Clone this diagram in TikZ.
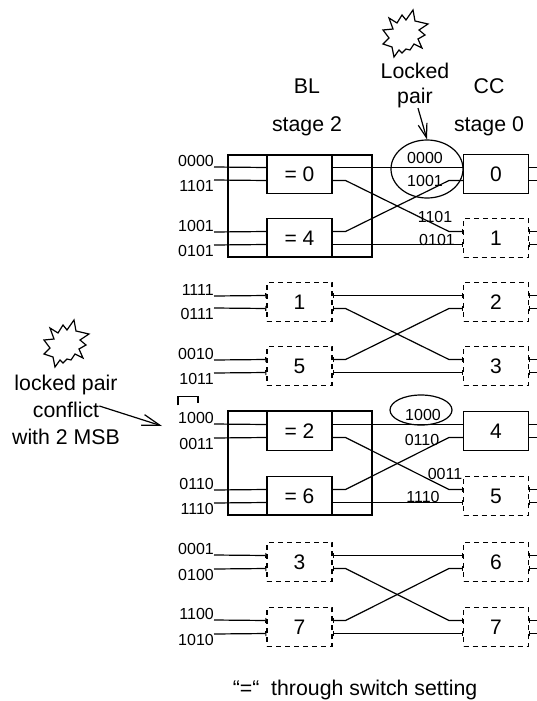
\documentclass[tikz,border=0pt]{standalone}
\usepackage{fontspec}
\setmainfont{Liberation Sans}
\usetikzlibrary{arrows.meta, positioning, shapes.geometric}
\tikzset{
  sw/.style={rectangle, draw, line width=1.1pt, inner sep=0pt,
    minimum width=65pt, minimum height=38.5pt, font=\fontsize{21}{24}\selectfont},
  swd/.style={sw, dashed, dash pattern=on 5pt off 4pt},
  lab/.style={inner sep=0pt, font=\fontsize{16}{18}\selectfont},
  txt/.style={inner sep=0pt, align=center, font=\fontsize{21.3}{24}\selectfont},
  wire/.style={line width=1.2pt},
  tick/.style={wire, -{Bar[width=5pt,length=1pt]}},
  tock/.style={wire, {Bar[width=5pt,length=1pt]}-},
  both/.style={wire, {Bar[width=5pt,length=1pt]}-{Bar[width=5pt,length=1pt]}},
  group/.style={rectangle, draw, line width=2.6pt, inner sep=0pt},
  lock/.style={ellipse, draw, line width=1.2pt, inner sep=0pt},
  burst/.pic={
    \draw[line width=1.2pt] (-16,-14) -- (-8,-9) -- (-3,-17) -- (1,-12) -- (8,-22)
      -- (10,-11) -- (23,-8) -- (14,-2) -- (20,3) -- (13,7) -- (17,16) -- (9,12)
      -- (5,18) -- (1,17) -- (-3,21) -- (-6,18) -- (-11,25) -- (-13,15) -- (-22,12)
      -- (-16,6) -- (-22,-2) -- (-12,-3) -- cycle;
  },
}
\begin{document}
\begin{tikzpicture}[x=1pt, y=-1pt]
\useasboundingbox (0,0) rectangle (537,701);
\def\pd{6.5pt}        % half distance between the two ports of a switch
\def\xa{299.5}        % x of BL column
\def\xb{496}          % x of CC column
\def\xin{214}         % x where the input wires start

%% -- Headings
\node[txt] (bl)  at (307, 86) {BL};
\node[txt] (st2) at (307,126) {stage 2};
\node[txt] (lck) at (415, 71) {Locked};
\node[txt] (par) at (415, 98) {pair};
\node[txt] (cc)  at (489, 86) {CC};
\node[txt] (st0) at (489,126) {stage 0};
\pic at (405,32) {burst};

%% -- Thick groups
\node[group, minimum width=144pt, minimum height=102pt] (g0) at (300,206) {};
\node[group, minimum width=144pt, minimum height=104pt] (g1) at (300,463) {};

%% -- BL stage 2 switches
\node[sw]  (b0) at (\xa,174) {= 0};
\node[sw]  (b4) at (\xa,238) {= 4};
\node[swd] (b1) at (\xa,302) {1};
\node[swd] (b5) at (\xa,366) {5};
\node[sw]  (b2) at (\xa,431) {= 2};
\node[sw]  (b6) at (\xa,496) {= 6};
\node[swd] (b3) at (\xa,562) {3};
\node[swd] (b7) at (\xa,627) {7};

%% -- CC stage 0 switches
\node[sw]  (c0) at (\xb,174) {0};
\node[swd] (c1) at (\xb,238) {1};
\node[swd] (c2) at (\xb,302) {2};
\node[swd] (c3) at (\xb,366) {3};
\node[sw]  (c4) at (\xb,431) {4};
\node[swd] (c5) at (\xb,496) {5};
\node[swd] (c6) at (\xb,562) {6};
\node[swd] (c7) at (\xb,627) {7};

%% -- Input labels
\node[lab, anchor=south east] (i0000) at (\xin,167) {0000};
\node[lab, anchor=north east] (i1101) at (\xin,180) {1101};
\node[lab, anchor=south east] (i1001) at (\xin,232) {1001};
\node[lab, anchor=north east] (i0101) at (\xin,245) {0101};
\node[lab, anchor=south east] (i1111) at (\xin,296) {1111};
\node[lab, anchor=north east] (i0111) at (\xin,308) {0111};
\node[lab, anchor=south east] (i0010) at (\xin,360) {0010};
\node[lab, anchor=north east] (i1011) at (\xin,373) {1011};
\node[lab, anchor=south east] (i1000) at (\xin,424) {1000};
\node[lab, anchor=north east] (i0011) at (\xin,438) {0011};
\node[lab, anchor=south east] (i0110) at (\xin,490) {0110};
\node[lab, anchor=north east] (i1110) at (\xin,503) {1110};
\node[lab, anchor=south east] (i0001) at (\xin,555) {0001};
\node[lab, anchor=north east] (i0100) at (\xin,569) {0100};
\node[lab, anchor=south east] (i1100) at (\xin,620) {1100};
\node[lab, anchor=north east] (i1010) at (\xin,634) {1010};

%% -- Input wires
\foreach \iu/\il/\sn/\sty in {i0000/i1101/b0/wire, i1001/i0101/b4/wire,
    i1111/i0111/b1/tick, i0010/i1011/b5/tick, i1000/i0011/b2/wire,
    i0110/i1110/b6/wire, i0001/i0100/b3/tick, i1100/i1010/b7/tick} {
  \draw[\sty] (\iu.south east) -- ([yshift=\pd]\sn.west);
  \draw[\sty] (\il.north east) -- ([yshift=-\pd]\sn.west);
}

%% -- Through wires and crossings
\foreach \bu/\bl/\cu/\cl/\stu/\stl in {b0/b4/c0/c1/wire/tick, b1/b5/c2/c3/both/both,
    b2/b6/c4/c5/wire/tick, b3/b7/c6/c7/both/both} {
  \draw[\stu] ([yshift=\pd]\bu.east) -- ([yshift=\pd]\cu.west);
  \draw[\stl] ([yshift=-\pd]\bl.east) -- ([yshift=-\pd]\cl.west);
  \draw[\stl] ([yshift=-\pd]\bu.east) -- ++(13,0) -- ([xshift=-14pt,yshift=\pd]\cl.west)
    -- ([yshift=\pd]\cl.west);
  \draw[\stu] ([yshift=\pd]\bl.east) -- ++(13,0) -- ([xshift=-14pt,yshift=-\pd]\cu.west)
    -- ([yshift=-\pd]\cu.west);
}

%% -- Output stubs
\foreach \sn/\sty in {c0/wire,c4/wire,c1/tock,c2/tock,c3/tock,c5/tock,c6/tock,c7/tock} {
  \draw[\sty] ([yshift=\pd]\sn.east) -- ++(8,0);
  \draw[\sty] ([yshift=-\pd]\sn.east) -- ++(8,0);
}

%% -- Labels on the wires
\node[lab] (w0000) at (425,158) {0000};
\node[lab] (w1001) at (425,181) {1001};
\node[lab] (w1101) at (435,217) {1101};
\node[lab] (w0101) at (437,240) {0101};
\node[lab] (w1000) at (423,415) {1000};
\node[lab] (w0110) at (422,440) {0110};
\node[lab] (w0011) at (445,474) {0011};
\node[lab] (w1110) at (423,497) {1110};

%% -- Locked pairs
\node[lock, minimum width=72pt, minimum height=58pt] (e0) at (427,169) {};
\node[lock, minimum width=62pt, minimum height=30pt] (e1) at (421,410) {};
\draw[wire, -{Straight Barb[length=14pt,width=9pt]}] ([xshift=3pt]par.south) -- (e0.north);

%% -- Conflict note
\pic at (66,342) {burst};
\node[txt] (nt1) at (66,385) {locked pair};
\node[txt] (nt2) at (66,410) {conflict};
\node[txt] (nt3) at (66,437) {with 2 MSB};
\coordinate (tip) at (162,426);
\draw[wire, -{Straight Barb[length=18pt,width=11pt]}] ([yshift=4pt]nt2.east) -- (tip);
\draw[wire] ([yshift=7pt]i1000.north west) -- ++(0,-9) -- ++(20,0) -- ++(0,7);

%% -- Caption
\node[txt] (cap) at (355,690) {``=``\ \ through switch setting};
\end{tikzpicture}
\end{document}
